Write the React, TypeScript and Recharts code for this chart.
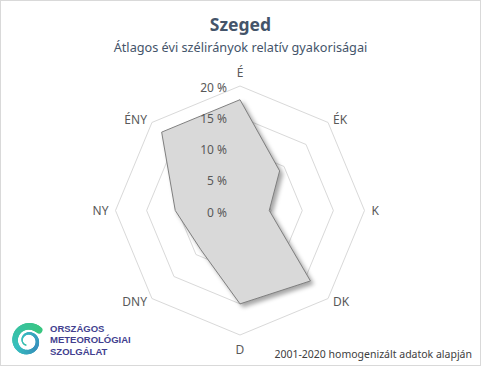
import { RadarChart, Radar, PolarGrid, PolarAngleAxis, PolarRadiusAxis } from "recharts";

const directions = ["É", "ÉK", "K", "DK", "D", "DNY", "NY", "ÉNY"];
const frequency = [17.8, 9.0, 4.7, 16.0, 15.0, 8.9, 10.4, 17.8];
const radiusTicks = [0, 5, 10, 15, 20];

const data = directions.map((dir, i) => ({ dir, value: frequency[i] }));

const CX = 240;
const CY = 210.5;
const R = 124.5;
const FONT = "'Noto Sans', sans-serif";

const AngleTick = (props: any) => {
  const angle = props.payload.coordinate;
  const rad = (angle * Math.PI) / 180;
  const cos = Math.cos(rad);
  const sin = Math.sin(rad);
  const vx = CX + R * cos;
  const vy = CY - R * sin;
  let x = vx;
  let y = vy;
  let anchor = "middle";
  if (Math.abs(cos) < 0.01) {
    y = vy - Math.sign(sin) * 14;
  } else {
    anchor = cos > 0 ? "start" : "end";
    x = vx + Math.sign(cos) * (Math.abs(sin) < 0.01 ? 7 : 5);
    if (Math.abs(sin) > 0.01) y = vy - Math.sign(sin) * 3;
  }
  return (
    <text x={x} y={y} textAnchor={anchor} dominantBaseline="central" fill="#595959" fontSize={12} fontFamily={FONT}>
      {props.payload.value}
    </text>
  );
};

const RadiusTick = (props: any) => (
  <text x={props.x - 13} y={props.y + 1.5} textAnchor="end" dominantBaseline="central" fill="#595959" fontSize={12} fontFamily={FONT}>
    {`${props.payload.value} %`}
  </text>
);

// spiral of the OMSZ logo, built from short segments that get thinner towards the end
const spiral = () => {
  const segs = [];
  const n = 70;
  for (let i = 0; i < n; i++) {
    const t0 = i / n;
    const t1 = (i + 1) / n;
    const pt = (t: number) => {
      const a = ((45 + t * 560) * Math.PI) / 180;
      const r = 15.5 - t * 11;
      return [28 + r * Math.cos(a), 31 - r * Math.sin(a)];
    };
    const [x0, y0] = pt(t0);
    const [x1, y1] = pt(t1);
    const hue = t0 < 0.5 ? `hsl(${150 + t0 * 100}, 55%, ${50 - t0 * 6}%)` : `hsl(${200 - (t0 - 0.5) * 60}, 55%, 48%)`;
    segs.push(
      <line key={i} x1={x0} y1={y0} x2={x1} y2={y1} stroke={hue} strokeWidth={Math.max(1.2, 7 - t0 * 6.5)} strokeLinecap="round" />
    );
  }
  return segs;
};

const Logo = () => (
  <svg width={140} height={56} style={{ position: "absolute", left: 0, top: 310 }}>
    {spiral()}
    <g fill="#433f8f" fontSize={9.5} fontWeight={700} fontFamily="'Liberation Sans', sans-serif">
      <text x={50} y={21.5}>ORSZÁGOS</text>
      <text x={50} y={33}>METEOROLÓGIAI</text>
      <text x={50} y={44.5}>SZOLGÁLAT</text>
    </g>
  </svg>
);

export default function App() {
  return (
    <div style={{ position: "relative", width: 481, height: 366, background: "#fff" }}>
      <style>{`body { margin: 0; } .recharts-radar-polygon path { filter: drop-shadow(3px 3px 2px rgba(0,0,0,0.35)); }`}</style>
      <div style={{ position: "absolute", left: 0, top: 0, width: 481, height: 366, boxSizing: "border-box", border: "1px solid #d9d9d9" }} />
      <div style={{ position: "absolute", left: 0, right: 0, top: 12, textAlign: "center", fontFamily: FONT, fontWeight: 700, fontSize: 17.5, color: "#44546a" }}>
        Szeged
      </div>
      <div style={{ position: "absolute", left: 0, right: 0, top: 37.5, textAlign: "center", fontFamily: FONT, fontSize: 12.7, color: "#44546a" }}>
        Átlagos évi szélirányok relatív gyakoriságai
      </div>
      <div style={{ position: "absolute", left: 0, top: 0 }}>
        <RadarChart
          width={481}
          height={366}
          data={data}
          cx={CX}
          cy={CY}
          outerRadius={R}
          margin={{ top: 0, right: 0, bottom: 0, left: 0 }}
        >
          <PolarGrid gridType="polygon" radialLines={false} stroke="#d9d9d9" />
          <PolarAngleAxis dataKey="dir" tick={<AngleTick />} tickLine={false} axisLine={false} />
          <PolarRadiusAxis angle={90} domain={[0, 20]} ticks={radiusTicks} tick={<RadiusTick />} axisLine={false} tickLine={false} />
          <Radar dataKey="value" fill="#d9d9d9" fillOpacity={1} stroke="#7f7f7f" strokeWidth={1} isAnimationActive={false} />
        </RadarChart>
      </div>
      <Logo />
      <div style={{ position: "absolute", right: 9, top: 347, fontFamily: FONT, fontSize: 10.5, color: "#404040" }}>
        2001-2020 homogenizált adatok alapján
      </div>
    </div>
  );
}
